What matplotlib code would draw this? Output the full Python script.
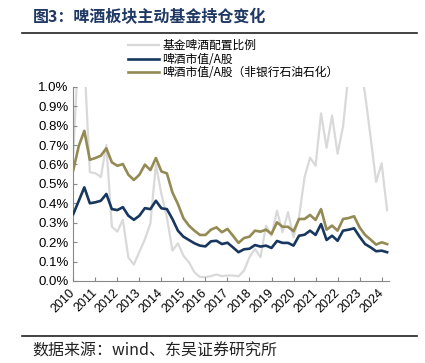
import matplotlib
matplotlib.use("Agg")
import matplotlib.pyplot as plt
import numpy as np

plt.rcParams['font.family'] = ['Liberation Sans', 'Noto Sans CJK SC']

# quarterly points, 2010Q1 .. 2024Q2
quarters = np.arange(58) / 4 + 2010

fund_beer = [0.66, 1.23, 1.14, 0.56, 0.555, 0.535, 0.70, 0.28, 0.254, 0.315,
             0.12, 0.085, 0.15, 0.215, 0.295, 0.60, 0.448, 0.328, 0.156, 0.194,
             0.13, 0.096, 0.045, 0.02, 0.02, 0.025, 0.033, 0.025, 0.028, 0.028,
             0.024, 0.053, 0.122, 0.165, 0.122, 0.285, 0.233, 0.362, 0.251, 0.354,
             0.225, 0.33, 0.534, 0.635, 0.593, 0.863, 0.686, 0.852, 0.655, 0.797,
             1.07, 1.2, 1.15, 0.96, 0.74, 0.51, 0.606, 0.364]

beer_a = [0.345, 0.413, 0.482, 0.40, 0.405, 0.413, 0.448, 0.37, 0.365, 0.38,
          0.336, 0.315, 0.336, 0.375, 0.37, 0.413, 0.374, 0.37, 0.319, 0.259,
          0.228, 0.211, 0.194, 0.182, 0.178, 0.204, 0.207, 0.19, 0.197, 0.173,
          0.148, 0.163, 0.166, 0.185, 0.177, 0.182, 0.17, 0.206, 0.196, 0.196,
          0.182, 0.233, 0.238, 0.259, 0.237, 0.293, 0.211, 0.233, 0.207, 0.259,
          0.264, 0.271, 0.228, 0.19, 0.173, 0.153, 0.156, 0.148]

beer_a_ex = [0.571, 0.696, 0.773, 0.624, 0.633, 0.645, 0.683, 0.611, 0.593, 0.602,
             0.547, 0.52, 0.547, 0.599, 0.571, 0.633, 0.564, 0.554, 0.456, 0.396,
             0.323, 0.285, 0.259, 0.237, 0.237, 0.264, 0.276, 0.251, 0.268, 0.233,
             0.196, 0.221, 0.228, 0.259, 0.254, 0.264, 0.242, 0.302, 0.279, 0.279,
             0.256, 0.319, 0.319, 0.34, 0.314, 0.37, 0.264, 0.285, 0.259, 0.319,
             0.324, 0.333, 0.276, 0.237, 0.213, 0.187, 0.199, 0.19]

labels = ['基金啤酒配置比例', '啤酒市值/A股', '啤酒市值/A股（非银行石油石化）']
years = list(range(2010, 2025))
yticks = [0.0, 0.1, 0.2, 0.3, 0.4, 0.5, 0.6, 0.7, 0.8, 0.9, 1.0]

fig = plt.figure(figsize=(4.25, 3.63), dpi=100)
ax = fig.add_axes([0.1725, 0.226, 0.742, 0.535])

ax.plot(quarters, fund_beer, color='#D9D9D9', lw=1.6, label=labels[0], zorder=1)
ax.plot(quarters, beer_a, color='#17375E', lw=1.9, label=labels[1], zorder=3)
ax.plot(quarters, beer_a_ex, color='#948A54', lw=1.9, label=labels[2], zorder=2)

ax.set_xlim(2010, 2024.32)
ax.set_ylim(0, 1.0)
ax.set_yticks(yticks)
ax.set_yticklabels(['%.1f%%' % v for v in yticks], fontsize=9.5)
ax.set_xticks(years)
ax.set_xticklabels([str(y) for y in years], rotation=45, fontsize=9,
                   ha='right', va='center', rotation_mode='anchor')
ax.tick_params(direction='in', length=3, color='#888888', width=0.8)
ax.tick_params(axis='x', pad=7)
for s in ['top', 'right']:
    ax.spines[s].set_visible(False)
for s in ['left', 'bottom']:
    ax.spines[s].set_color('#888888')
    ax.spines[s].set_linewidth(0.8)

leg = fig.legend(loc='upper left', bbox_to_anchor=(0.29, 0.905), frameon=False,
                 prop={'family': ['Noto Sans CJK SC'], 'size': 8.5},
                 handlelength=2.6, handletextpad=0.3, labelspacing=0.05,
                 borderaxespad=0)

fig.text(0.078, 0.953, '图3：啤酒板块主动基金持仓变化', fontsize=11.5, fontweight='bold',
         color='#1F3864', family=['Noto Sans CJK SC'], va='center')
fig.add_artist(plt.Line2D([0.052, 0.982], [0.909, 0.909], color='#222222', lw=1.2))
fig.add_artist(plt.Line2D([0.052, 0.982], [0.074, 0.074], color='#222222', lw=1.2))
fig.text(0.075, 0.033, '数据来源：wind、东吴证券研究所', fontsize=11.5,
         family=['Noto Sans CJK SC'], va='center', color='#222222')

fig.savefig('out.png', dpi=100)
